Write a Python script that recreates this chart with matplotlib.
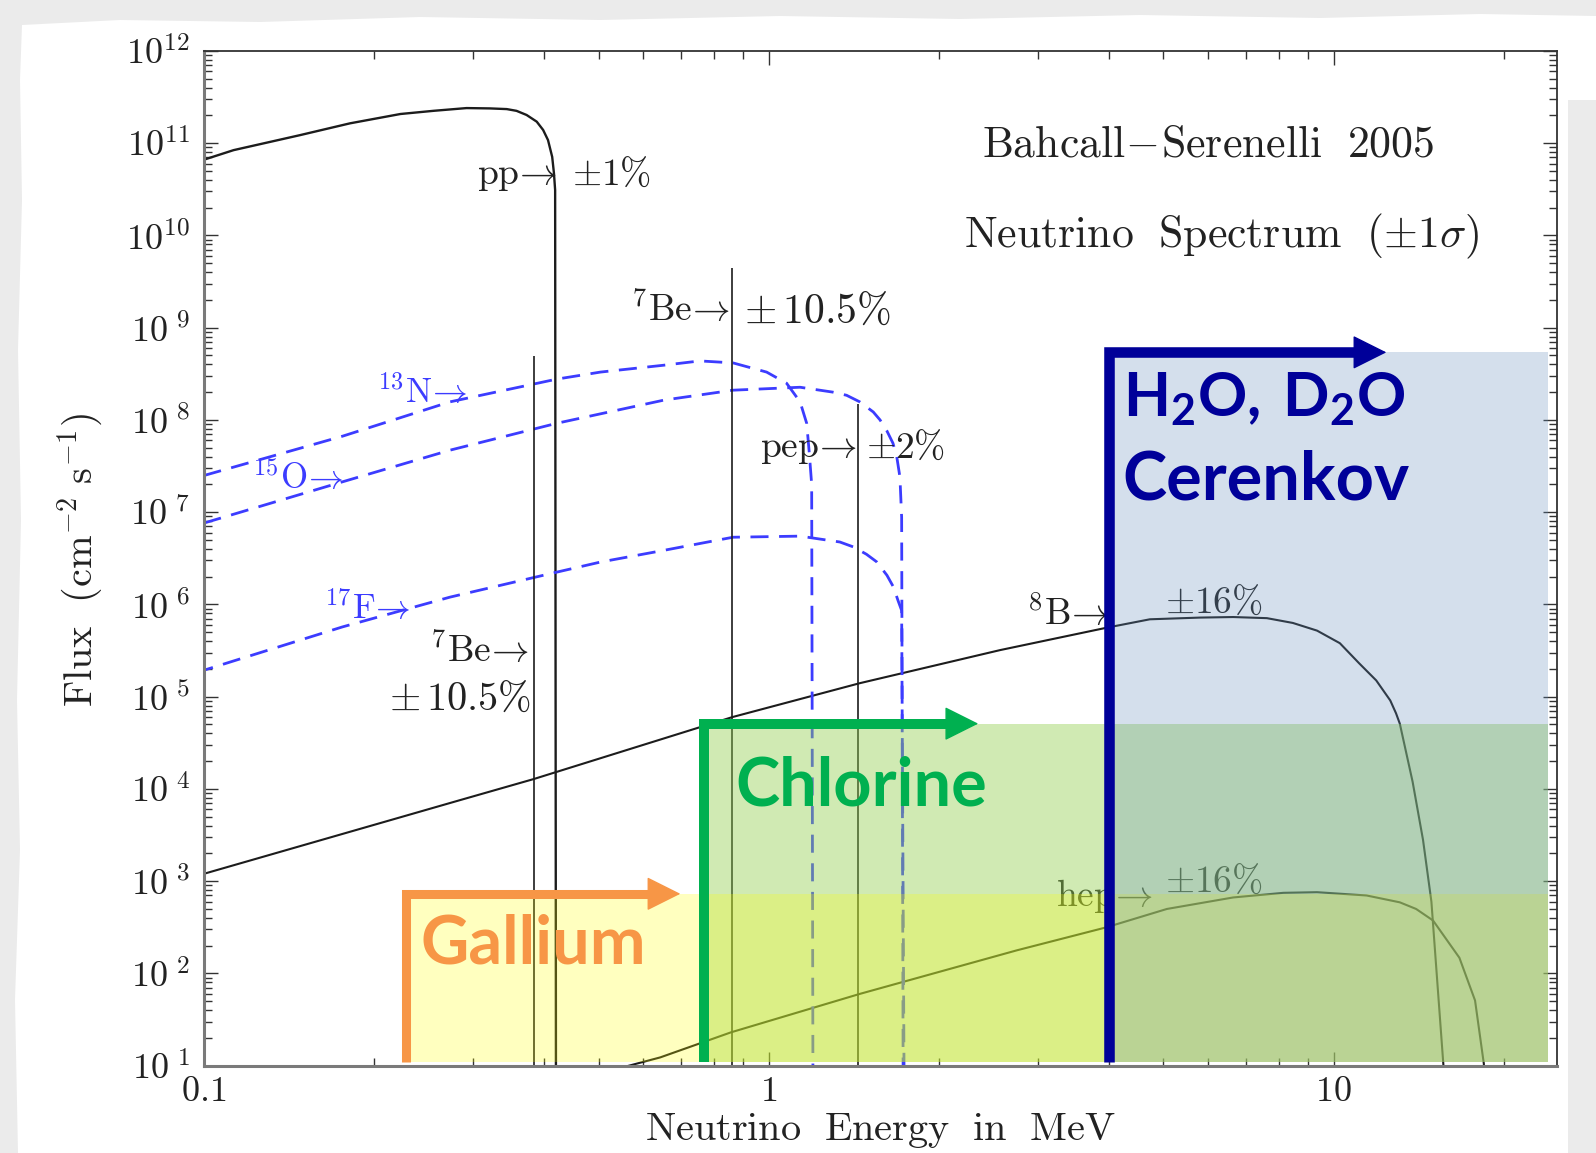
import math
import matplotlib
matplotlib.use("Agg")
import matplotlib.pyplot as plt
from matplotlib.patches import Polygon
from matplotlib.ticker import FixedLocator, FuncFormatter, NullFormatter

plt.rcParams['mathtext.fontset'] = 'cm'
plt.rcParams['mathtext.bf'] = 'Lato:bold'

# --- spectres (flux en cm^-2 s^-1 MeV^-1, energie en MeV) ---
pp_E = [0.1, 0.113, 0.148, 0.1816, 0.223, 0.255, 0.292, 0.3214, 0.344, 0.358, 0.373,
        0.3887, 0.399, 0.407, 0.414, 0.417, 0.419, 0.4205]
pp_F = [6.6e10, 8.4e10, 1.22e11, 1.64e11, 2.07e11, 2.24e11, 2.40e11, 2.38e11, 2.34e11,
        2.24e11, 2.02e11, 1.71e11, 1.39e11, 1.08e11, 7.1e10, 4.7e10, 3.1e10, 1.0]

n13_E = [0.1, 0.176, 0.273, 0.422, 0.504, 0.653, 0.756, 0.865, 0.992, 1.076, 1.137, 1.168,
         1.18, 1.192, 1.199]
n13_F = [2.49e7, 6.65e7, 1.57e8, 2.77e8, 3.3e8, 3.92e8, 4.36e8, 4.15e8, 3.3e8, 2.5e8,
         1.57e8, 9.2e7, 4.5e7, 2.0e7, 1.0]

o15_E = [0.1, 0.176, 0.273, 0.422, 0.653, 0.865, 1.137, 1.30, 1.374, 1.45, 1.532, 1.575,
         1.618, 1.66, 1.686, 1.708, 1.72, 1.732]
o15_F = [7.6e6, 2.13e7, 4.7e7, 9.2e7, 1.64e8, 2.1e8, 2.26e8, 2.0e8, 1.85e8, 1.57e8, 1.22e8,
         1.0e8, 7.7e7, 5.6e7, 4.0e7, 2.4e7, 8.8e6, 1.0]

f17_E = [0.1, 0.176, 0.273, 0.422, 0.504, 0.653, 0.865, 1.137, 1.337, 1.413, 1.49, 1.553,
         1.62, 1.663, 1.695, 1.72, 1.74]
f17_F = [1.93e5, 5.7e5, 1.2e6, 2.24e6, 2.88e6, 3.86e6, 5.35e6, 5.5e6, 4.75e6, 4.2e6, 3.5e6,
         2.9e6, 2.07e6, 1.55e6, 1.1e6, 8.6e5, 1.0]

b8_E = [0.1, 0.283, 0.384, 0.862, 1.45, 2.57, 3.97, 4.73, 5.8, 6.64, 7.62, 8.47, 9.35,
        10.26, 11.1, 11.9, 12.6, 12.9, 13.1, 13.8, 14.4, 14.9, 15.65, 15.9]
b8_F = [1.2e3, 7.5e3, 1.28e4, 6.0e4, 1.4e5, 3.2e5, 5.6e5, 6.9e5, 7.2e5, 7.3e5, 7.1e5, 6.3e5,
        5.2e5, 3.8e5, 2.3e5, 1.5e5, 9.1e4, 6.6e4, 5.1e4, 1.2e4, 2.8e3, 6.0e2, 10.0, 1.0]

hep_E = [0.566, 0.643, 0.858, 1.45, 2.75, 3.96, 5.07, 6.64, 8.15, 9.35, 11.44, 13.1, 14.0,
         15.0, 16.7, 17.8, 18.45, 18.8]
hep_F = [10.0, 12.3, 23.0, 60.0, 178.0, 316.0, 500.0, 666.0, 748.0, 760.0, 700.0, 590.0,
         500.0, 375.0, 148.0, 51.0, 10.5, 1.0]

# raies (7Be 0.384, 7Be 0.862, pep 1.442) : flux en cm^-2 s^-1
line_E = [0.384, 0.862, 1.442]
line_F = [4.9e8, 4.45e9, 1.48e8]

# --- seuils des detecteurs ---
det_names = ['Gallium', 'Chlorine', 'Cerenkov']
det_threshold = [0.228, 0.77, 4.0]
det_top = [7.3e2, 5.1e4, 5.4e8]
det_arrow_tip = [0.698, 2.35, 12.4]
det_E_max = 24.0
det_F_min = 11.0

W, H = 1596, 1153
fig = plt.figure(figsize=(W / 100, H / 100), dpi=100)
fig.patch.set_facecolor('#ebebeb')

# feuille blanche (bord dechire)
paper_px = [(22, 25), (120, 20), (260, 22), (420, 17), (600, 20), (780, 16), (960, 19),
            (1140, 15), (1320, 18), (1480, 14), (1596, 16), (1596, 100), (1568, 100),
            (1568, 1153), (18, 1153), (15, 1000), (20, 850), (17, 700), (21, 520),
            (18, 350), (22, 200), (20, 80)]
paper = Polygon([(x / W, 1 - y / H) for x, y in paper_px], closed=True,
                transform=fig.transFigure, facecolor='white', edgecolor='none', zorder=0)
fig.add_artist(paper)

ax = fig.add_axes([203.6 / W, 1 - 1065.7 / H, (1557.4 - 203.6) / W, (1065.7 - 50.9) / H])
ax.set_xscale('log')
ax.set_yscale('log')
ax.set_xlim(0.1, 24.9)
ax.set_ylim(10, 1e12)

# courbes
ink = '#1c1c1c'
blue = '#3c3cff'
dash = (0, (6.5, 3.8))
ax.plot(pp_E, pp_F, color=ink, lw=1.7, zorder=2)
ax.plot(b8_E, b8_F, color=ink, lw=1.5, zorder=2)
ax.plot(hep_E, hep_F, color=ink, lw=1.5, zorder=2)
ax.plot(n13_E, n13_F, color=blue, lw=2.0, ls=dash, zorder=2)
ax.plot(o15_E, o15_F, color=blue, lw=2.0, ls=dash, zorder=2)
ax.plot(f17_E, f17_F, color=blue, lw=2.0, ls=(3, (6.5, 3.8)), zorder=2)
ax.vlines(line_E, 1.0, line_F, color=ink, lw=1.2, zorder=2)

# etiquettes des sources
lab = dict(transform=ax.transAxes, color='#222222', va='center', zorder=2.5)
ax.text(0.2609, 0.8776, r'$\mathrm{pp}\!\rightarrow$', ha='right', fontsize=27, **lab)
ax.text(0.2722, 0.8776, r'$\pm1\%$', ha='left', fontsize=27, **lab)
ax.text(0.3887, 0.7442, r'$^{7}\mathrm{Be}\!\rightarrow$', ha='right', fontsize=27, **lab)
ax.text(0.3992, 0.7442, r'$\pm\,10.5\%$', ha='left', fontsize=30, **lab)
ax.text(0.4827, 0.6088, r'$\mathrm{pep}\!\rightarrow$', ha='right', fontsize=27, **lab)
ax.text(0.4895, 0.6088, r'$\pm2\%$', ha='left', fontsize=27, **lab)
ax.text(0.2406, 0.4082, r'$^{7}\mathrm{Be}\!\rightarrow$', ha='right', fontsize=27, **lab)
ax.text(0.2421, 0.3611, r'$\pm\,10.5\%$', ha='right', fontsize=29, **lab)
ax.text(0.6692, 0.4453, r'$^{8}\mathrm{B}\!\rightarrow$', ha='right', fontsize=27, **lab)
ax.text(0.7105, 0.4564, r'$\pm16\%$', ha='left', fontsize=27, **lab)
ax.text(0.7008, 0.1675, r'$\mathrm{hep}\!\rightarrow$', ha='right', fontsize=27, **lab)
ax.text(0.7105, 0.1815, r'$\pm16\%$', ha='left', fontsize=27, **lab)

blab = dict(transform=ax.transAxes, fontsize=25, color=blue, va='center', ha='left', zorder=2.5)
ax.text(0.1278, 0.6640, r'$^{13}\mathrm{N}\!\rightarrow$', **blab)
ax.text(0.0361, 0.5787, r'$^{15}\mathrm{O}\!\rightarrow$', **blab)
ax.text(0.0887, 0.4514, r'$^{17}\mathrm{F}\!\rightarrow$', **blab)

ax.text(0.7421, 0.9087, r'$\mathrm{Bahcall\!-\!Serenelli\ \ 2005}$', transform=ax.transAxes,
        fontsize=31.5, color='#222222', ha='center', va='center')
ax.text(0.7519, 0.8175, r'$\mathrm{Neutrino\ \ Spectrum\ \ (\pm1\sigma)}$', transform=ax.transAxes,
        fontsize=31.5, color='#222222', ha='center', va='center')

# zones de sensibilite : vert d'abord, puis jaune, puis bleu par-dessus
fill_style = [(1, '#92D050', 0.43, 3.0), (0, '#FFFF00', 0.25, 3.1), (2, '#658DBB', 0.28, 3.2)]
for i, c, a, z in fill_style:
    ax.fill_between([det_threshold[i], det_E_max], det_F_min, det_top[i],
                    color=c, alpha=a, lw=0, zorder=z)

det_colors = ['#F79646', '#00B050', '#000099']
det_lw = [6.5, 7.2, 7.6]
for i in range(3):
    e0, top, tip, col = det_threshold[i], det_top[i], det_arrow_tip[i], det_colors[i]
    base = tip / 10 ** (30 / 565)
    ax.plot([e0, e0, base], [det_F_min, top, top], color=col, lw=det_lw[i],
            solid_joinstyle='miter', solid_capstyle='butt', zorder=4, clip_on=False)
    ax.annotate('', xy=(tip, top), xytext=(base / 1.02, top),
                arrowprops=dict(arrowstyle='-|>,head_length=1.0,head_width=0.5',
                                mutation_scale=22, color=col, lw=1, shrinkA=0, shrinkB=0),
                zorder=4)

big = dict(transform=ax.transAxes, fontweight='bold', family='Lato',
           ha='left', va='center', zorder=5)
ax.text(0.1602, 0.1194, det_names[0], color=det_colors[0], fontsize=48, **big)
ax.text(0.3925, 0.2748, det_names[1], color=det_colors[1], fontsize=48, **big)
ax.text(0.6790, 0.6570, r'$\mathbf{H_2O,\!\ D_2O}$', color=det_colors[2],
        math_fontfamily='custom', fontsize=44, **big)
ax.text(0.6790, 0.5767, det_names[2], color=det_colors[2], fontsize=48, **big)

# axes et graduations
ax.xaxis.set_major_locator(FixedLocator([0.1, 1, 10]))
ax.xaxis.set_minor_locator(FixedLocator([0.2, 0.3, 0.4, 0.5, 0.6, 0.7, 0.8, 0.9,
                                         2, 3, 4, 5, 6, 7, 8, 9, 20]))
ax.xaxis.set_major_formatter(FuncFormatter(lambda v, p: r'$%g$' % v))
ax.xaxis.set_minor_formatter(NullFormatter())
ax.yaxis.set_major_locator(FixedLocator([10.0 ** n for n in range(1, 13)]))
ax.yaxis.set_minor_locator(FixedLocator([k * 10.0 ** n for n in range(1, 12) for k in range(2, 10)]))


def exp_label(v, p):
    n = int(round(math.log10(v)))
    if n >= 10:
        return r'$10^{%d}$' % n
    return r'$10^{\,\,%d}$' % n


ax.yaxis.set_major_formatter(FuncFormatter(exp_label))
ax.yaxis.set_minor_formatter(NullFormatter())
ax.tick_params(which='both', direction='in', top=True, right=True, colors='#333333',
               labelcolor='#222222')
ax.tick_params(which='major', length=10, width=1.0)
ax.tick_params(which='minor', length=5.5, width=1.0)
ax.tick_params(axis='y', labelsize=26, pad=10)
ax.tick_params(axis='x', labelsize=26, pad=6)
for side in ['left', 'bottom']:
    ax.spines[side].set_color('#7a7a7a')
    ax.spines[side].set_linewidth(2.2)
for side in ['top', 'right']:
    ax.spines[side].set_color('#333333')
    ax.spines[side].set_linewidth(1.3)

fig.text(0.0508, 0.5143, r'$\mathrm{Flux\ \ (cm^{-2}\ s^{-1})}$', rotation=90,
         fontsize=29, color='#222222', ha='center', va='center')
fig.text(0.5517, 0.0200, r'$\mathrm{Neutrino\ \ Energy\ \ in\ \ MeV}$',
         fontsize=29, color='#222222', ha='center', va='center')

fig.savefig('out.png', dpi=100, facecolor=fig.get_facecolor())
